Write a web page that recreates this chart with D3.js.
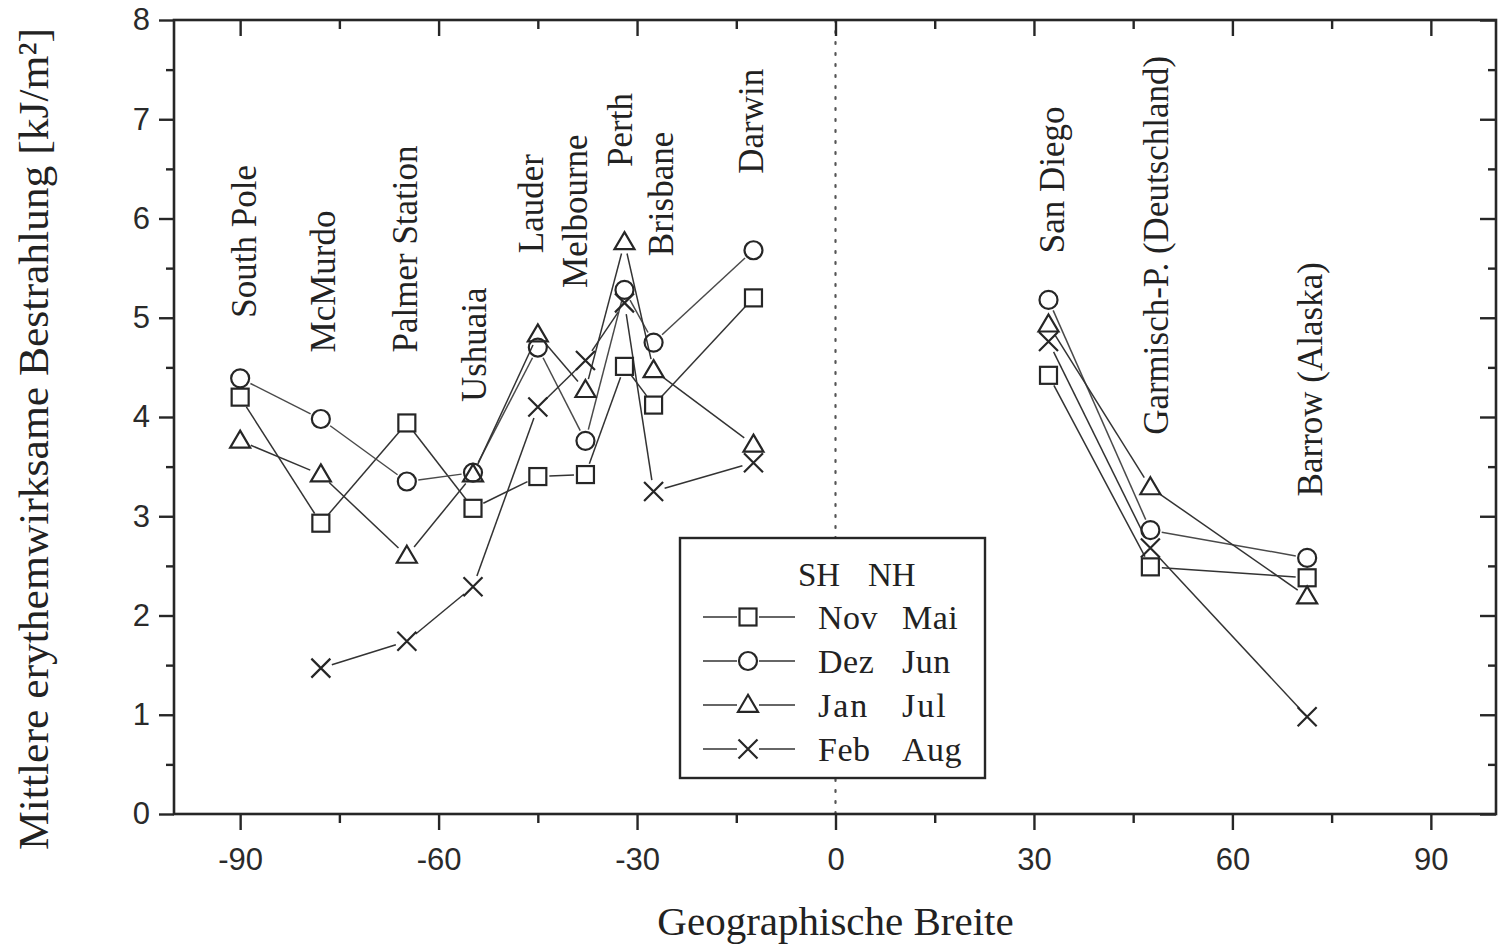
<!DOCTYPE html>
<html>
<head>
<meta charset="utf-8">
<script src="https://cdn.jsdelivr.net/npm/d3@7"></script>
<style>
  body { margin: 0; background: #fff; }
  svg { display: block; }
</style>
</head>
<body>
<svg id="chart" width="1498" height="951"></svg>
<script>
// Measuring stations, their latitude, and the mean erythemal dose per month [kJ/m²]
const stations = ["South Pole", "McMurdo", "Palmer Station", "Ushuaia", "Lauder", "Melbourne",
  "Perth", "Brisbane", "Darwin", "San Diego", "Garmisch-P. (Deutschland)", "Barrow (Alaska)"];
const latitudes = [-90, -77.8, -64.8, -54.8, -45.0, -37.8, -31.9, -27.5, -12.4, 32.2, 47.6, 71.3];

// SH month / NH month
const novMai = [4.20, 2.93, 3.94, 3.08, 3.40, 3.42, 4.51, 4.12, 5.20, 4.42, 2.49, 2.38];
const dezJun = [4.39, 3.98, 3.35, 3.44, 4.70, 3.76, 5.28, 4.75, 5.68, 5.18, 2.86, 2.58];
const janJul = [3.76, 3.42, 2.60, 3.42, 4.83, 4.27, 5.76, 4.47, 3.72, 4.93, 3.29, 2.19];
const febAug = [null, 1.47, 1.74, 2.29, 4.10, 4.57, 5.15, 3.25, 3.54, 4.76, 2.68, 0.98];

const monthsSH = ["Nov", "Dez", "Jan", "Feb"];
const monthsNH = ["Mai", "Jun", "Jul", "Aug"];
const symbols = ["square", "circle", "triangle", "cross"];

const xTicks = [-90, -60, -30, 0, 30, 60, 90];
const xMinorTicks = [-75, -45, -15, 15, 45, 75];
const yTicks = [0, 1, 2, 3, 4, 5, 6, 7, 8];
const yMinorTicks = [0.5, 1.5, 2.5, 3.5, 4.5, 5.5, 6.5, 7.5];

// Where each station name sits: latitude of the text column, value where the text begins
const labelLat = [-89.3, -77.4, -64.9, -54.6, -45.9, -39.3, -32.4, -26.3, -12.6, 32.8, 48.5, 71.8];
const labelStart = [5.0, 4.65, 4.65, 4.15, 5.65, 5.30, 6.52, 5.62, 6.45, 5.65, 3.82, 3.20];

const W = 1498, H = 951;
const margin = { left: 174, right: 1, top: 20, bottom: 137 };
const svg = d3.select("#chart");

const x = d3.scaleLinear().domain([-100, 100]).range([margin.left, W - margin.right]);
const y = d3.scaleLinear().domain([0, 8]).range([H - margin.bottom, margin.top]);

const ink = "#262626";
const serif = "'Liberation Serif', 'Times New Roman', serif";
const sans = "'Liberation Sans', Arial, sans-serif";
const plain = d => String(d);

// Equator reference line
svg.append("line")
  .attr("x1", x(0)).attr("x2", x(0))
  .attr("y1", y(8)).attr("y2", y(0))
  .attr("stroke", "#555").attr("stroke-width", 2.2)
  .attr("stroke-dasharray", "2 9").attr("stroke-linecap", "round");

// Axes
function styleAxis(g) {
  g.select(".domain").remove();
  g.selectAll(".tick line").attr("stroke", ink).attr("stroke-width", 2.4);
  g.selectAll(".tick text").attr("fill", "#2a2a2a")
    .attr("font-family", sans).attr("font-size", 31);
}
svg.append("g").attr("transform", `translate(0,${y(0)})`)
  .call(d3.axisBottom(x).tickValues(xTicks).tickSize(16).tickPadding(18).tickFormat(plain))
  .call(styleAxis);
svg.append("g").attr("transform", `translate(0,${y(0)})`)
  .call(d3.axisBottom(x).tickValues(xMinorTicks).tickSize(9).tickFormat(""))
  .call(styleAxis);
svg.append("g").attr("transform", `translate(0,${y(8)})`)
  .call(d3.axisTop(x).tickValues(xTicks).tickSize(-16).tickFormat(""))
  .call(styleAxis);
svg.append("g").attr("transform", `translate(0,${y(8)})`)
  .call(d3.axisTop(x).tickValues(xMinorTicks).tickSize(-9).tickFormat(""))
  .call(styleAxis);
svg.append("g").attr("transform", `translate(${x(-100)},0)`)
  .call(d3.axisLeft(y).tickValues(yTicks).tickSize(15).tickPadding(9).tickFormat(plain))
  .call(styleAxis);
svg.append("g").attr("transform", `translate(${x(-100)},0)`)
  .call(d3.axisLeft(y).tickValues(yMinorTicks).tickSize(8).tickFormat(""))
  .call(styleAxis);
svg.append("g").attr("transform", `translate(${x(100) - 1},0)`)
  .call(d3.axisRight(y).tickValues(yTicks).tickSize(-16).tickFormat(""))
  .call(styleAxis);
svg.append("g").attr("transform", `translate(${x(100) - 1},0)`)
  .call(d3.axisRight(y).tickValues(yMinorTicks).tickSize(-8).tickFormat(""))
  .call(styleAxis);

// Plot frame
svg.append("rect")
  .attr("x", x(-100)).attr("y", y(8))
  .attr("width", x(100) - 1 - x(-100)).attr("height", y(0) - y(8))
  .attr("fill", "none").attr("stroke", ink).attr("stroke-width", 2.6);

// Station names
svg.append("g").selectAll("text").data(stations).join("text")
  .attr("transform", (d, i) => `translate(${x(labelLat[i])},${y(labelStart[i])}) rotate(-90)`)
  .attr("dy", "0.32em")
  .attr("font-family", serif).attr("font-size", 35).attr("fill", "#222")
  .text(d => d);

// Marker shapes
function drawMarker(g, type, cx, cy) {
  const s = 8.5;
  const common = el => el.attr("fill", "none").attr("stroke", ink).attr("stroke-width", 2.2);
  if (type === "square") {
    common(g.append("rect").attr("x", cx - s).attr("y", cy - s).attr("width", 2 * s).attr("height", 2 * s));
  } else if (type === "circle") {
    common(g.append("circle").attr("cx", cx).attr("cy", cy).attr("r", s + 0.5));
  } else if (type === "triangle") {
    const h = 17, hw = 10;
    common(g.append("path").attr("d",
      `M${cx},${cy - h * 0.6}L${cx + hw},${cy + h * 0.4}L${cx - hw},${cy + h * 0.4}Z`));
  } else {
    const c = 9.5;
    common(g.append("path").attr("d",
      `M${cx - c},${cy - c}L${cx + c},${cy + c}M${cx - c},${cy + c}L${cx + c},${cy - c}`));
  }
}

// Series: lines run separately on each hemisphere and stop short of the markers
const seriesValues = [novMai, dezJun, janJul, febAug];
const gap = 11.5;
const lineLayer = svg.append("g");
const markerLayer = svg.append("g");

seriesValues.forEach((vals, si) => {
  const pts = vals.map((v, i) => ({ lat: latitudes[i], v }))
    .filter(p => p.v !== null)
    .map(p => ({ hemi: p.lat < 0 ? "S" : "N", px: x(p.lat), py: y(p.v) }));
  for (let i = 0; i < pts.length - 1; i++) {
    const a = pts[i], b = pts[i + 1];
    if (a.hemi !== b.hemi) continue;
    const dx = b.px - a.px, dy = b.py - a.py, len = Math.hypot(dx, dy);
    if (len <= 2 * gap) continue;
    const ux = dx / len, uy = dy / len;
    lineLayer.append("line")
      .attr("x1", a.px + ux * gap).attr("y1", a.py + uy * gap)
      .attr("x2", b.px - ux * gap).attr("y2", b.py - uy * gap)
      .attr("stroke", si === 1 ? "#4a4a4a" : "#333").attr("stroke-width", 1.5);
  }
  pts.forEach(p => drawMarker(markerLayer, symbols[si], p.px, p.py));
});

// Legend
const lg = svg.append("g");
const lx = 680, ly = 538, lw = 305, lh = 240;
lg.append("rect").attr("x", lx).attr("y", ly).attr("width", lw).attr("height", lh)
  .attr("fill", "#fff").attr("stroke", ink).attr("stroke-width", 2.4);
lg.append("text").attr("x", lx + 118).attr("y", ly + 48)
  .attr("font-family", serif).attr("font-size", 33).attr("fill", "#222").text("SH");
lg.append("text").attr("x", lx + 188).attr("y", ly + 48)
  .attr("font-family", serif).attr("font-size", 33).attr("fill", "#222").text("NH");
monthsSH.forEach((m, i) => {
  const cy = ly + 79 + i * 44;
  lg.append("line").attr("x1", lx + 23).attr("x2", lx + 57).attr("y1", cy).attr("y2", cy)
    .attr("stroke", "#333").attr("stroke-width", 1.5);
  lg.append("line").attr("x1", lx + 79).attr("x2", lx + 115).attr("y1", cy).attr("y2", cy)
    .attr("stroke", "#333").attr("stroke-width", 1.5);
  drawMarker(lg, symbols[i], lx + 68, cy);
  lg.append("text").attr("x", lx + 138).attr("y", cy + 12)
    .attr("font-family", serif).attr("font-size", 34).attr("fill", "#222")
    .attr("letter-spacing", i === 2 ? 2 : 0.5).text(m);
  lg.append("text").attr("x", lx + 222).attr("y", cy + 12)
    .attr("font-family", serif).attr("font-size", 34).attr("fill", "#222")
    .attr("letter-spacing", i === 2 ? 2 : 0.5).text(monthsNH[i]);
});

// Axis titles
svg.append("text")
  .attr("x", x(0)).attr("y", 935)
  .attr("text-anchor", "middle")
  .attr("font-family", serif).attr("font-size", 41).attr("fill", "#222")
  .text("Geographische Breite");

svg.append("text")
  .attr("transform", `translate(48,${(y(0) + 48 + y(8) - 20) / 2 + 8}) rotate(-90)`)
  .attr("text-anchor", "middle")
  .attr("font-family", serif).attr("font-size", 42).attr("fill", "#222")
  .attr("textLength", 822).attr("lengthAdjust", "spacingAndGlyphs")
  .text("Mittlere erythemwirksame Bestrahlung [kJ/m²]");
</script>
</body>
</html>
